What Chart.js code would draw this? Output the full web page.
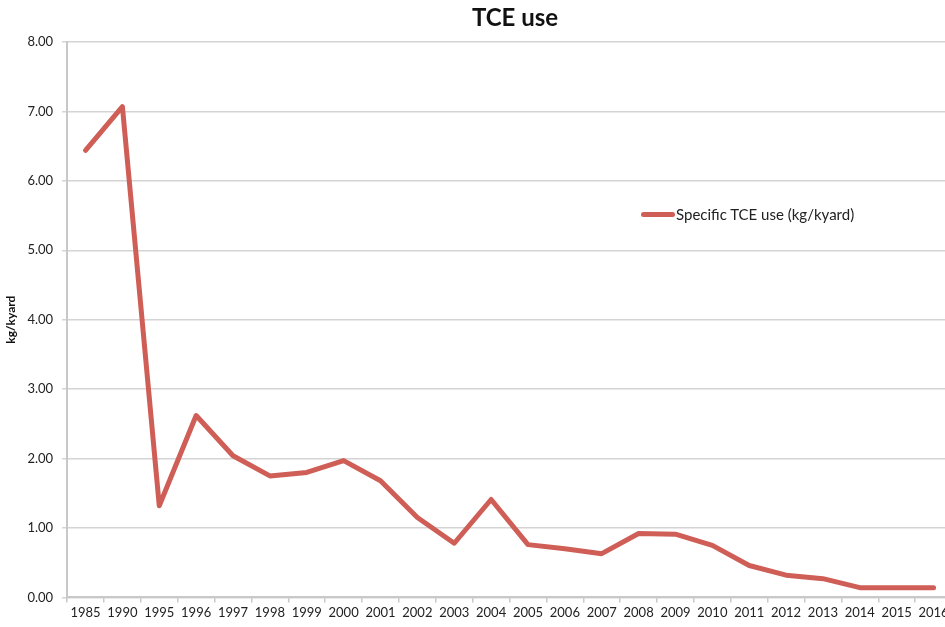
<!DOCTYPE html>
<html>
<head>
<meta charset="utf-8">
<script src="https://cdn.jsdelivr.net/npm/chart.js@4/dist/chart.umd.min.js"></script>
<style>
  html, body { margin: 0; padding: 0; background: #fff; overflow: hidden; }
  #wrap { position: relative; width: 1006px; height: 627px; }
  #title { position: absolute; left: 415px; width: 200px; top: 2px; text-align: center; font-family: Lato, "Open Sans", sans-serif; font-weight: bold; font-size: 24px; color: #111; }
  #legend { position: absolute; left: 641px; top: 205px; font-family: Lato, "Open Sans", sans-serif; font-size: 15px; color: #222; display: flex; align-items: center; white-space: nowrap; }
  #legend .sw { display: inline-block; width: 34px; height: 5px; border-radius: 3px; margin-right: 1px; }
</style>
</head>
<body>
<div id="wrap">
  <canvas id="c" width="1006" height="627"></canvas>
  <div id="title"></div>
  <div id="legend"></div>
</div>
<script>
const categories = ["1985","1990","1995","1996","1997","1998","1999","2000","2001","2002","2003","2004","2005","2006","2007","2008","2009","2010","2011","2012","2013","2014","2015","2016"];
const tceUse = [6.44,7.07,1.32,2.62,2.04,1.75,1.80,1.97,1.68,1.15,0.78,1.41,0.76,0.70,0.63,0.92,0.91,0.75,0.46,0.32,0.27,0.14,0.14,0.14];
const seriesLabel = "Specific TCE use (kg/kyard)";
const chartTitle = "TCE use";
const yAxisTitle = "kg/kyard";
const lineColor = "#cf5e57";

document.getElementById('title').textContent = chartTitle;

const ctx = document.getElementById('c').getContext('2d');
new Chart(ctx, {
  type: 'line',
  data: {
    labels: categories,
    datasets: [{
      label: seriesLabel,
      data: tceUse,
      borderColor: lineColor,
      backgroundColor: lineColor,
      borderWidth: 5,
      pointRadius: 0,
      tension: 0,
      borderJoinStyle: 'round',
      borderCapStyle: 'round'
    }]
  },
  options: {
    responsive: false,
    animation: false,
    layout: { padding: { left: 4, right: 54, top: 42, bottom: 3 } },
    plugins: {
      legend: { display: false },
      tooltip: { enabled: false },
      title: { display: false }
    },
    scales: {
      x: {
        offset: true,
        grid: { offset: true, drawOnChartArea: false, color: '#c8c8c8', tickLength: 5, lineWidth: 1.5 },
        border: { color: '#c8c8c8', width: 2 },
        ticks: { color: '#222', font: { family: 'Lato, "Open Sans", sans-serif', size: 13 }, maxRotation: 0, autoSkip: false, padding: 3 }
      },
      y: {
        min: 0, max: 8,
        ticks: { stepSize: 1, color: '#222', font: { family: 'Lato, "Open Sans", sans-serif', size: 13 }, padding: 9, callback: v => v.toFixed(2) },
        grid: { color: '#d4d4d4', lineWidth: 1.5, tickLength: 5 },
        border: { color: '#c8c8c8', width: 2 },
        title: { display: true, text: yAxisTitle, color: '#111', font: { family: 'Lato, "Open Sans", sans-serif', size: 12, weight: 'bold' }, padding: { top: 0, bottom: 0 } }
      }
    }
  }
});

const lg = document.getElementById('legend');
const sw = document.createElement('span'); sw.className = 'sw'; sw.style.background = lineColor;
const tx = document.createElement('span'); tx.textContent = seriesLabel;
lg.appendChild(sw); lg.appendChild(tx);
</script>
</body>
</html>
